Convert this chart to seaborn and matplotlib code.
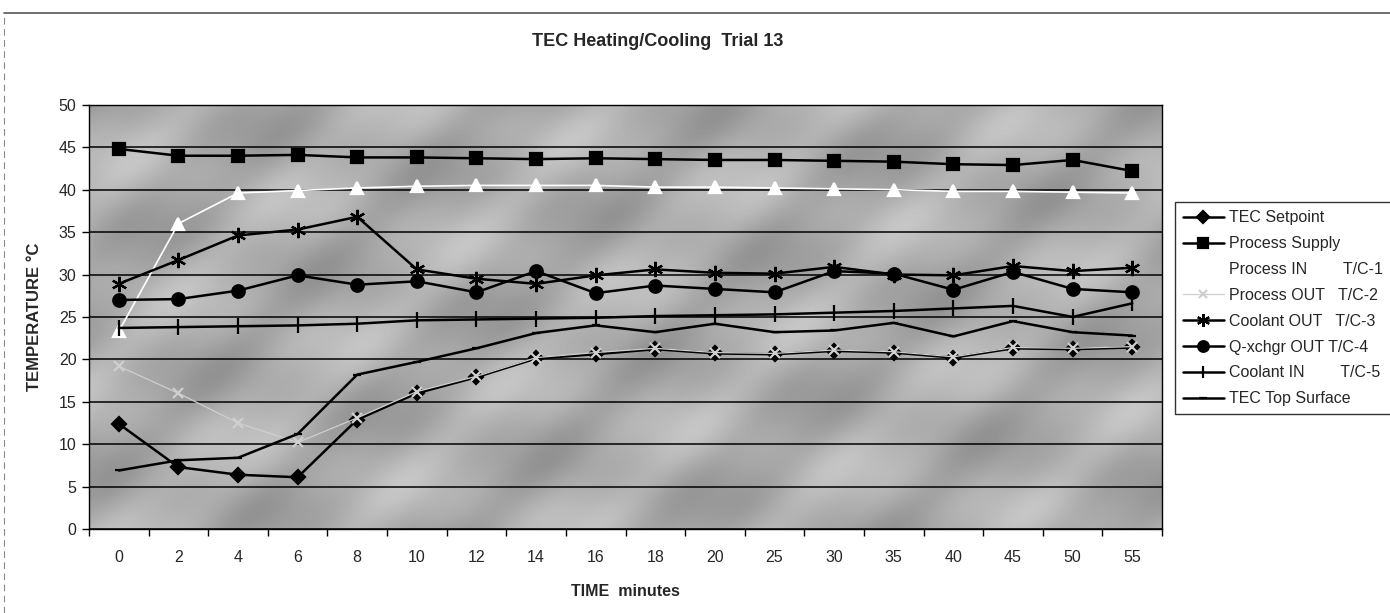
import matplotlib
matplotlib.use('Agg')
import matplotlib.pyplot as plt
from matplotlib.lines import Line2D
import numpy as np
import seaborn as sns

time_labels = ['0', '2', '4', '6', '8', '10', '12', '14', '16', '18', '20',
               '25', '30', '35', '40', '45', '50', '55']

tec_setpoint = [12.4, 7.3, 6.4, 6.1, 12.9, 16.0, 17.9, 20.1, 20.6, 21.2, 20.7,
                20.6, 21.0, 20.8, 20.2, 21.3, 21.2, 21.4]
process_supply = [44.8, 44.0, 44.0, 44.1, 43.8, 43.8, 43.7, 43.6, 43.7, 43.6, 43.5,
                  43.5, 43.4, 43.3, 43.0, 42.9, 43.5, 42.2]
process_in = [23.3, 36.0, 39.6, 39.9, 40.2, 40.4, 40.5, 40.5, 40.5, 40.3, 40.3,
              40.2, 40.1, 40.0, 39.8, 39.8, 39.7, 39.6]
process_out = [19.2, 16.0, 12.5, 10.2, 13.1, 16.2, 18.0, 20.2, 20.8, 21.3, 20.8,
               20.7, 21.1, 20.9, 20.3, 21.4, 21.3, 21.5]
coolant_out = [28.9, 31.7, 34.6, 35.3, 36.8, 30.6, 29.5, 28.9, 29.9, 30.6, 30.2,
               30.1, 30.9, 30.0, 29.9, 31.0, 30.4, 30.8]
qxchgr_out = [27.0, 27.1, 28.1, 29.9, 28.8, 29.2, 27.9, 30.4, 27.8, 28.7, 28.3,
              27.9, 30.4, 30.1, 28.2, 30.3, 28.3, 27.9]
coolant_in = [23.7, 23.8, 23.9, 24.0, 24.2, 24.6, 24.7, 24.8, 24.9, 25.1, 25.2,
              25.3, 25.5, 25.7, 26.0, 26.3, 25.0, 26.6]
tec_top = [6.9, 8.1, 8.4, 11.2, 18.2, 19.7, 21.3, 23.1, 24.0, 23.2, 24.2,
           23.2, 23.4, 24.3, 22.7, 24.5, 23.2, 22.8]

series_labels = ['TEC Setpoint', 'Process Supply', 'Process IN        T/C-1',
                 'Process OUT   T/C-2', 'Coolant OUT   T/C-3', 'Q-xchgr OUT T/C-4',
                 'Coolant IN        T/C-5', 'TEC Top Surface']

sns.set_theme(style='white')
plt.rcParams['font.family'] = ['Liberation Sans', 'DejaVu Sans']

fig = plt.figure(figsize=(13.9, 6.13), dpi=100)
ax = fig.add_axes([0.064, 0.137, 0.772, 0.692])
ax.set_facecolor('#ababab')
ax.set_axisbelow(True)

# mottled gray plot-area background (decorative)
xx, yy = np.meshgrid(np.linspace(0, 1, 500), np.linspace(0, 1, 250))
tex = (0.5 + 0.22 * np.sin(2 * np.pi * (xx * 5.0 - yy * 2.2))
       + 0.14 * np.sin(2 * np.pi * (xx * 2.1 + yy * 3.3 + 0.3))
       + 0.06 * np.sin(2 * np.pi * (xx * 13.0 - yy * 5.0)))
ax.imshow(tex, cmap='gray', vmin=-2.2, vmax=1.8, extent=(-0.5, len(time_labels) - 0.5, 0, 50),
          aspect='auto', zorder=0, interpolation='bilinear', origin='lower')

styles = [
    dict(data=tec_setpoint, color='black', marker='D', markersize=7, lw=1.8),
    dict(data=process_supply, color='black', marker='s', markersize=9, lw=1.8),
    dict(data=process_in, color='white', marker='^', markersize=8, lw=1.2),
    dict(data=process_out, color='#cfcfcf', marker='x', markersize=7, lw=0.9),
    dict(data=coolant_out, color='black', marker=(6, 2, 0), markersize=11, lw=1.8),
    dict(data=qxchgr_out, color='black', marker='o', markersize=9, lw=1.8),
    dict(data=coolant_in, color='black', marker='|', markersize=11, lw=1.8),
    dict(data=tec_top, color='black', marker='_', markersize=6, lw=1.8),
]

for st, lab in zip(styles, series_labels):
    sns.lineplot(x=time_labels, y=st['data'], ax=ax, sort=False, color=st['color'],
                 marker=st['marker'], markersize=st['markersize'], linewidth=st['lw'],
                 markerfacecolor=st['color'], markeredgecolor=st['color'],
                 markeredgewidth=1.6, label=lab)

ax.set_ylim(0, 50)
ax.set_yticks(range(0, 51, 5))
ax.set_xlim(-0.5, len(time_labels) - 0.5)
ax.set_xticks(range(len(time_labels)))
ax.set_xticklabels(time_labels)
ax.set_xticks([i - 0.5 for i in range(len(time_labels) + 1)], minor=True)
ax.yaxis.grid(True, color='black', linewidth=1.1)
ax.xaxis.grid(False)
ax.tick_params(axis='x', which='major', length=0, pad=15, labelsize=11.5)
ax.tick_params(axis='x', which='minor', length=5, width=1, color='black', direction='out', bottom=True)
ax.tick_params(axis='y', which='major', length=5, width=1, color='black', direction='out',
               left=True, labelsize=11.5, pad=4)
for sp in ax.spines.values():
    sp.set_color('black')
    sp.set_linewidth(1.0)

ax.set_xlabel('TIME  minutes', fontsize=11.5, fontweight='bold', labelpad=14)
ax.set_ylabel('TEMPERATURE °C', fontsize=12, fontweight='bold', labelpad=12)

fig.text(0.473, 0.932, 'TEC Heating/Cooling  Trial 13', ha='center', va='center',
         fontsize=13, fontweight='bold')

leg = ax.legend(loc='upper left', bbox_to_anchor=(0.845, 0.670), bbox_transform=fig.transFigure,
                frameon=True, fancybox=False, edgecolor='black', fontsize=11.5,
                handlelength=2.6, labelspacing=0.68, borderpad=0.5, handletextpad=0.3,
                borderaxespad=0)
leg.get_frame().set_linewidth(1.0)
for h in leg.legend_handles:
    h.set_markersize(h.get_markersize() * 0.85)

# outer chart frame
fig.add_artist(Line2D([0.003, 1.0], [0.979, 0.979], transform=fig.transFigure,
                      color='#555555', linewidth=1.2))
fig.add_artist(Line2D([0.003, 0.003], [0.0, 0.979], transform=fig.transFigure,
                      color='#888888', linewidth=0.8, linestyle=(0, (6, 4))))

fig.savefig('out.png', dpi=100)
